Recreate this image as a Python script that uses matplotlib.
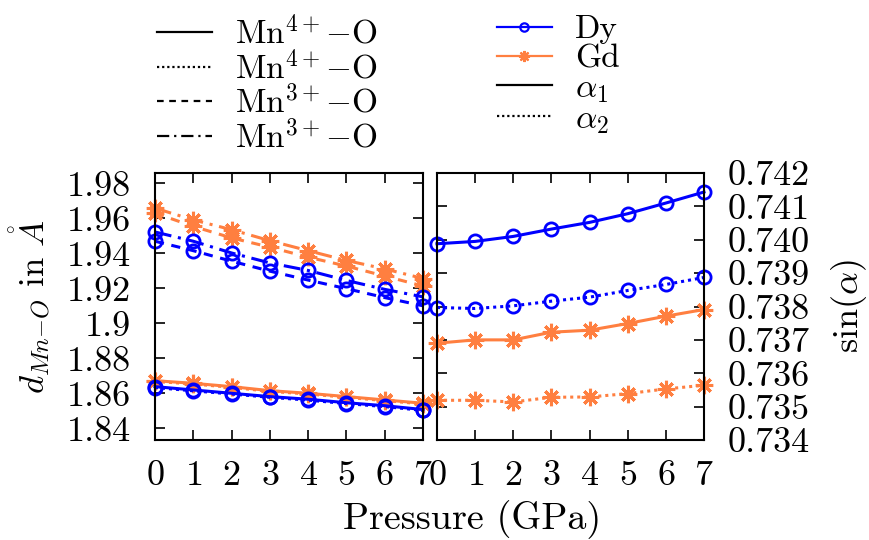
import numpy as np
import matplotlib
matplotlib.use("Agg")
import matplotlib.pyplot as plt
from matplotlib.lines import Line2D
from matplotlib.ticker import FuncFormatter

plt.rcParams['font.family'] = ['cmr10', 'DejaVu Serif']
plt.rcParams['mathtext.fontset'] = 'cm'
plt.rcParams['axes.formatter.use_mathtext'] = True
plt.rcParams['font.size'] = 26

# pressure in GPa
pressure = [0, 1, 2, 3, 4, 5, 6, 7]

# Mn-O distances (Angstrom)
dy_mn4_a = [1.8638, 1.8619, 1.8600, 1.8581, 1.8566, 1.8546, 1.8529, 1.8507]
dy_mn4_b = [1.8633, 1.8614, 1.8596, 1.8577, 1.8561, 1.8541, 1.8524, 1.8502]
dy_mn3_a = [1.9469, 1.9415, 1.9355, 1.9298, 1.9247, 1.9198, 1.9147, 1.9100]
dy_mn3_b = [1.9522, 1.9469, 1.9402, 1.9345, 1.9302, 1.9245, 1.9194, 1.9151]
gd_mn4_a = [1.8672, 1.8657, 1.8638, 1.8615, 1.8600, 1.8581, 1.8562, 1.8543]
gd_mn4_b = [1.8668, 1.8653, 1.8634, 1.8611, 1.8596, 1.8577, 1.8558, 1.8539]
gd_mn3_a = [1.9630, 1.9554, 1.9488, 1.9435, 1.9378, 1.9327, 1.9270, 1.9213]
gd_mn3_b = [1.9658, 1.9591, 1.9535, 1.9472, 1.9415, 1.9359, 1.9311, 1.9256]

# sin(alpha)
dy_a1 = [0.73988, 0.73995, 0.74010, 0.74032, 0.74052, 0.74078, 0.74110, 0.74143]
dy_a2 = [0.73797, 0.73794, 0.73802, 0.73816, 0.73828, 0.73848, 0.73866, 0.73887]
gd_a1 = [0.73690, 0.73700, 0.73700, 0.73723, 0.73729, 0.73749, 0.73771, 0.73791]
gd_a2 = [0.73519, 0.73519, 0.73514, 0.73528, 0.73529, 0.73539, 0.73553, 0.73564]

blue = '#0000ff'
orange = '#ff7f40'
lw = 2.2
dy_style = dict(color=blue, marker='o', fillstyle='none', markersize=9.5, markeredgewidth=2.0, lw=lw)
gd_style = dict(color=orange, marker=(8, 2, 0), markersize=12.5, markeredgewidth=2.2, lw=lw)

dotted = (0, (1, 1.3))
dashed = (0, (3, 2.5))
dashdot = (0, (5.5, 2.2, 1, 2.2))

fig = plt.figure(figsize=(8.7, 5.4), dpi=100)
ax1 = fig.add_axes([155/870, 1-440/540, 268/870, 267/540])
ax2 = fig.add_axes([437/870, 1-440/540, 267/870, 267/540])

ax1.plot(pressure, gd_mn4_a, linestyle='-', **gd_style)
ax1.plot(pressure, gd_mn4_b, linestyle=dotted, **gd_style)
ax1.plot(pressure, gd_mn3_a, linestyle=dashed, **gd_style)
ax1.plot(pressure, gd_mn3_b, linestyle=dashdot, **gd_style)
ax1.plot(pressure, dy_mn4_a, linestyle='-', **dy_style)
ax1.plot(pressure, dy_mn4_b, linestyle=dotted, **dy_style)
ax1.plot(pressure, dy_mn3_a, linestyle=dashed, **dy_style)
ax1.plot(pressure, dy_mn3_b, linestyle=dashdot, **dy_style)

ax2.plot(pressure, dy_a1, linestyle='-', **dy_style)
ax2.plot(pressure, dy_a2, linestyle=dotted, **dy_style)
ax2.plot(pressure, gd_a1, linestyle='-', **gd_style)
ax2.plot(pressure, gd_a2, linestyle=dotted, **gd_style)

for ax in (ax1, ax2):
    ax.set_xlim(0, 7)
    ax.set_xticks(pressure)
    ax.tick_params(direction='in', length=7, width=1.2, top=True, right=True)
    ax.tick_params(axis='x', pad=15)
    ax.tick_params(axis='y', pad=17)
    for s in ax.spines.values():
        s.set_linewidth(1.5)
    for c in ax.get_children():
        if isinstance(c, Line2D):
            c.set_clip_on(False)

ax1.set_ylim(1.8333, 1.9859)
ax1.set_yticks(np.arange(1.84, 1.981, 0.02))
ax1.yaxis.set_major_formatter(FuncFormatter(lambda v, p: '%g' % round(v, 2)))
ax1.set_ylabel(r'$d_{Mn{-}O}$ in $\mathring{A}$', fontsize=25, labelpad=10)

ax2.set_ylim(0.734, 0.742)
ax2.set_yticks(np.arange(0.734, 0.7421, 0.001))
ax2.yaxis.set_major_formatter(FuncFormatter(lambda v, p: '%.3f' % v))
ax2.tick_params(labelleft=False, labelright=True)
ax2.yaxis.set_label_position('right')
ax2.set_ylabel(r'$\sin(\alpha)$', fontsize=26, labelpad=14)

fig.text(472/870, 1-520/540, 'Pressure (GPa)', ha='center', va='center', fontsize=27.5)

h_left = [Line2D([], [], color='k', lw=1.6, linestyle=ls) for ls in ['-', dotted, dashed, dashdot]]
lab_left = [r'Mn$^{4+}{-}$O', r'Mn$^{4+}{-}$O', r'Mn$^{3+}{-}$O', r'Mn$^{3+}{-}$O']
h_right = [Line2D([], [], color=blue, lw=1.6, marker='o', fillstyle='none', markersize=6, markeredgewidth=1.6),
           Line2D([], [], color=orange, lw=1.6, marker=(8, 2, 0), markersize=8, markeredgewidth=1.6),
           Line2D([], [], color='k', lw=1.6),
           Line2D([], [], color='k', lw=1.6, linestyle=dotted)]
lab_right = ['Dy', 'Gd', r'$\alpha_1$', r'$\alpha_2$']

common = dict(frameon=False, loc='upper left', borderpad=0, borderaxespad=0,
              handlelength=1.65, handletextpad=0.7, labelspacing=0.0, fontsize=24)
fig.legend(h_left, lab_left, bbox_to_anchor=(157/870, 1-15/540), **common)
fig.legend(h_right, lab_right, bbox_to_anchor=(497/870, 1-15/540), **common)

fig.savefig('out.png', dpi=100)
